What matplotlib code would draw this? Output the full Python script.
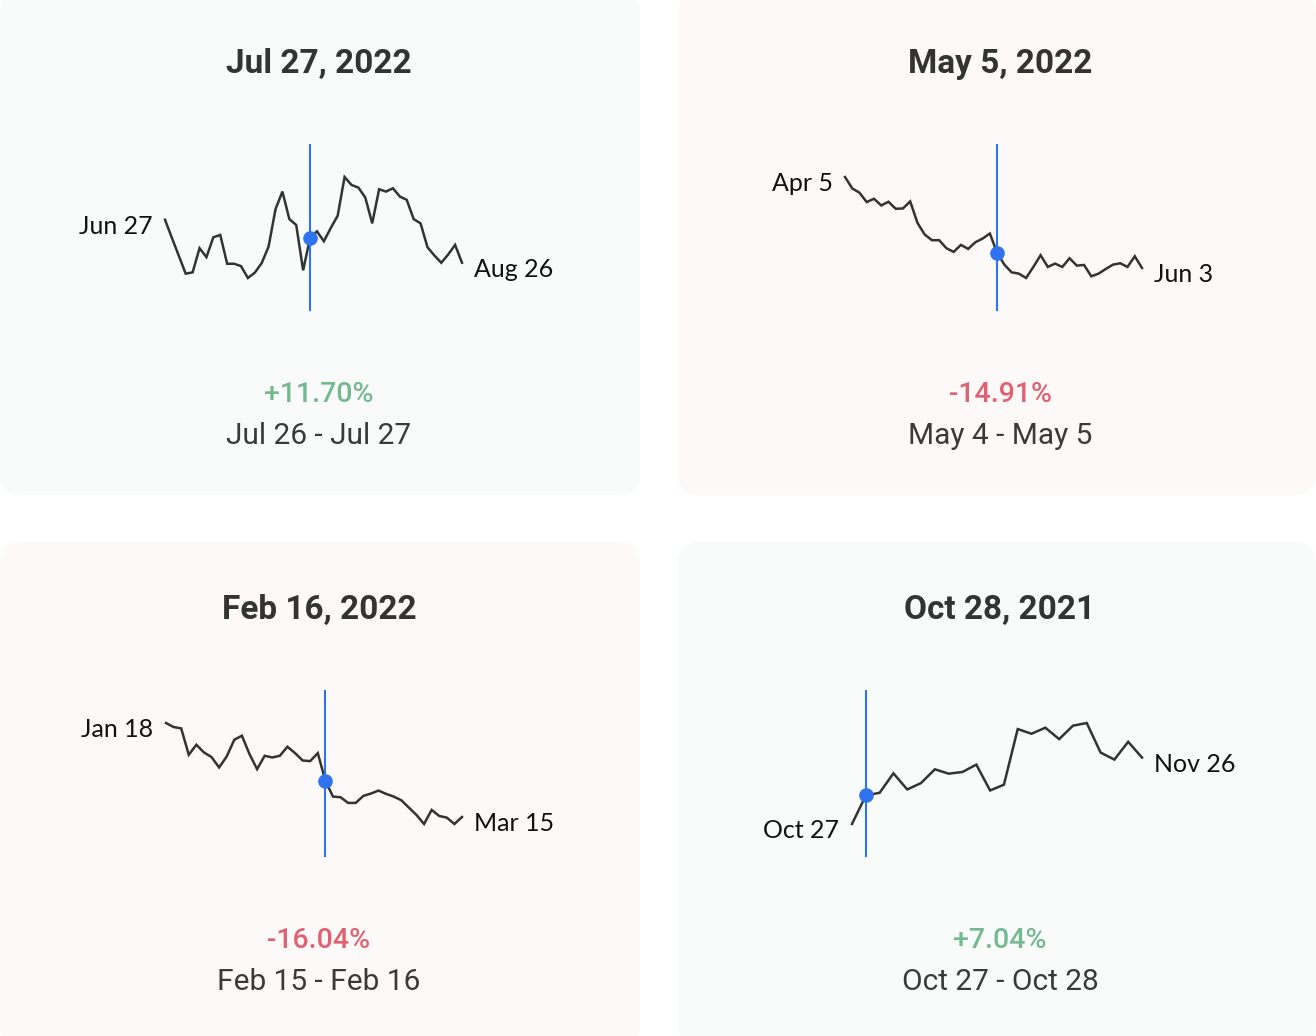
import matplotlib
matplotlib.use("Agg")
import matplotlib.pyplot as plt
from matplotlib.patches import FancyBboxPatch

# ---------------- data ----------------
titles = ["Jul 27, 2022", "May 5, 2022", "Feb 16, 2022", "Oct 28, 2021"]
changes = ["+11.70%", "-14.91%", "-16.04%", "+7.04%"]
ranges = ["Jul 26 - Jul 27", "May 4 - May 5", "Feb 15 - Feb 16", "Oct 27 - Oct 28"]
start_labels = ["Jun 27", "Apr 5", "Jan 18", "Oct 27"]
end_labels = ["Aug 26", "Jun 3", "Mar 15", "Nov 26"]
event_index = [21, 21, 21, 1]

prices_jul = [118.3, 112.8, 107.4, 102.0, 102.4, 109.7, 107.0, 113.0, 113.7, 105.0,
              105.0, 104.3, 100.7, 102.3, 105.2, 110.2, 121.5, 126.8, 118.5, 116.7,
              103.0, 112.8, 114.8, 111.8, 115.8, 119.5, 131.2, 128.8, 128.0, 125.0,
              117.2, 127.5, 126.8, 127.8, 125.3, 124.3, 118.5, 117.2, 110.0, 107.5,
              105.3, 107.8, 110.7, 105.3]
prices_may = [130.7, 127.3, 126.0, 123.2, 124.2, 122.2, 123.3, 121.2, 121.3, 123.4,
              117.0, 113.5, 111.8, 111.8, 109.4, 108.3, 110.4, 109.2, 111.2, 112.3,
              113.8, 108.0, 104.5, 102.2, 101.8, 100.5, 103.8, 107.3, 103.8, 104.8,
              103.8, 106.4, 104.2, 104.4, 101.0, 101.8, 103.2, 104.5, 104.9, 103.8,
              107.0, 103.5]
prices_feb = [130.5, 129.3, 128.9, 121.0, 124.0, 121.7, 120.3, 117.2, 120.5, 125.5,
              126.7, 121.2, 116.7, 120.7, 120.2, 120.7, 123.4, 121.5, 119.3, 119.1,
              121.5, 113.2, 108.5, 108.3, 106.6, 106.6, 108.7, 109.4, 110.3, 109.3,
              108.5, 107.4, 105.2, 103.0, 100.3, 104.5, 102.7, 102.2, 100.3, 102.4]
prices_oct = [100.5, 109.0, 109.8, 115.6, 110.8, 112.7, 116.8, 115.5, 116.0, 118.2,
              110.5, 112.2, 128.8, 127.4, 129.2, 125.8, 129.8, 130.6, 121.8, 119.7,
              125.0, 120.3]
series = [prices_jul, prices_may, prices_feb, prices_oct]

# ---------------- style / layout ----------------
W, H = 1316, 1036
fig = plt.figure(figsize=(W / 100, H / 100), dpi=100)
fig.patch.set_facecolor("white")

GREEN_BG = "#f9fbfa"
PINK_BG = "#fdf9f8"
GREEN_TXT = "#74b98f"
RED_TXT = "#e06272"
LINE_C = "#333333"
BLUE = "#2f73f0"

cards = [(0, -8, 640, 495, GREEN_BG), (678, -8, 1316, 495, PINK_BG),
         (0, 542, 640, 1046, PINK_BG), (678, 542, 1316, 1046, GREEN_BG)]
centers = [(319, 0), (1000, 0), (319, 546), (1000, 546)]
spark_x = [(165, 462), (845, 1142), (166, 462), (852, 1142)]
spark_y = [(145, 310), (145, 310), (691, 856), (691, 856)]
is_up = [True, False, False, True]

bg = fig.add_axes([0, 0, 1, 1])
bg.set_xlim(0, W)
bg.set_ylim(H, 0)
bg.axis("off")
for (x0, y0, x1, y1, c) in cards:
    bg.add_patch(FancyBboxPatch((x0 + 22, y0 + 22), (x1 - x0) - 44, (y1 - y0) - 44,
                                boxstyle="round,pad=22", fc=c, ec="none"))

for i in range(4):
    cx, oy = centers[i]
    bg.text(cx, oy + 64, titles[i], ha="center", va="center", fontsize=24,
            fontweight="bold", color="#333333", family="Roboto")
    bg.text(cx, oy + 394, changes[i], ha="center", va="center", fontsize=20.5,
            fontweight="medium", color=GREEN_TXT if is_up[i] else RED_TXT,
            family="Roboto")
    bg.text(cx, oy + 436, ranges[i], ha="center", va="center", fontsize=21.5,
            color="#3a3a3a", family="Roboto")

    vals = series[i]
    xs = list(range(len(vals)))
    x0, x1 = spark_x[i]
    y0, y1 = spark_y[i]
    ax = fig.add_axes([x0 / W, 1 - y1 / H, (x1 - x0) / W, (y1 - y0) / H])
    ax.axis("off")
    ax.patch.set_alpha(0)
    lo, hi = min(vals), max(vals)
    pad = (hi - lo) * 0.317
    ax.set_ylim(lo - pad, hi + pad)
    ax.set_xlim(0, len(vals) - 1)
    ax.plot(xs, vals, color=LINE_C, lw=1.8, solid_joinstyle="miter", clip_on=False)
    ax.axvline(event_index[i], color=BLUE, lw=1.5, clip_on=False)
    ax.plot([event_index[i]], [vals[event_index[i]]], "o", color=BLUE,
            markersize=9.5, clip_on=False, zorder=5)
    ax.annotate(start_labels[i], (0, vals[0]), xytext=(-9, -5),
                textcoords="offset points", ha="right", va="center",
                fontsize=18, color="#111111", family="Lato")
    ax.annotate(end_labels[i], (len(vals) - 1, vals[-1]), xytext=(9, -5),
                textcoords="offset points", ha="left", va="center",
                fontsize=18, color="#111111", family="Lato")

fig.savefig("out.png", dpi=100, facecolor="white")
